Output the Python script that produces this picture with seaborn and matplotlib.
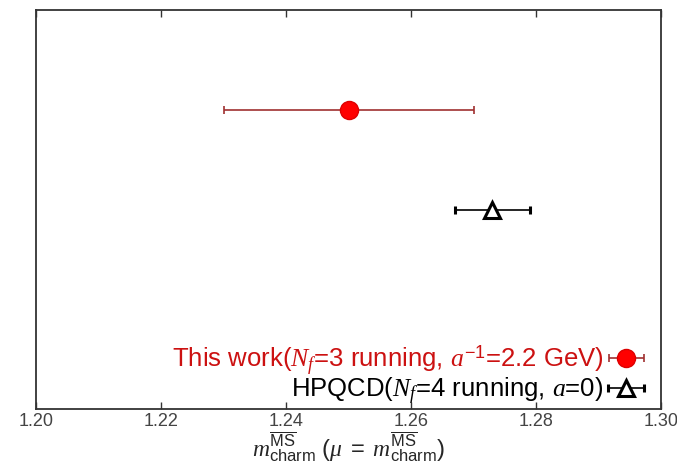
import matplotlib
matplotlib.use("Agg")
import matplotlib.pyplot as plt
from matplotlib.legend_handler import HandlerErrorbar
from matplotlib.container import ErrorbarContainer
import seaborn as sns
import numpy as np

# Data
labels = [r"This work($N_f$=3 running, $a^{-1}$=2.2 GeV)",
          r"HPQCD($N_f$=4 running, $a$=0)"]
values = [1.250, 1.273]
errors = [0.020, 0.006]
ypos = [3, 2]
text_colors = ["#cc1111", "#000000"]
xticks = [1.20, 1.22, 1.24, 1.26, 1.28, 1.30]

sns.set_theme(style="ticks")
plt.rcParams['font.family'] = ['Liberation Sans', 'DejaVu Sans']
plt.rcParams['mathtext.fontset'] = 'custom'
plt.rcParams['mathtext.rm'] = 'Liberation Sans'
plt.rcParams['mathtext.it'] = 'Liberation Serif:italic'
plt.rcParams['mathtext.bf'] = 'Liberation Sans:bold'

fig = plt.figure(figsize=(6.77, 4.67), dpi=100)
ax = fig.add_axes([36/677, 1 - 409/467, 625/677, 399/467])

h1 = ax.errorbar(values[0], ypos[0], xerr=errors[0], fmt='o', color='#ff0000',
                 ecolor='#a03030', elinewidth=1.2, capsize=3, capthick=1.2,
                 markersize=13, markeredgecolor='#dd0000', label=labels[0])
h2 = ax.errorbar(values[1], ypos[1], xerr=errors[1], fmt='^', color='black',
                 ecolor='black', elinewidth=1.2, capsize=3, capthick=1.2,
                 markersize=11, markerfacecolor='white', markeredgewidth=2.2,
                 label=labels[1])

ax.set_xlim(1.20, 1.30)
ax.set_ylim(0, 4)
ax.set_xticks(xticks)
ax.set_xticklabels([f"{t:.2f}" for t in xticks])
ax.set_yticks([])
ax.tick_params(axis='x', direction='in', top=True, bottom=True, length=5,
               width=1, labelsize=13, colors='#333333', labelcolor='#444444', pad=3)
for s in ax.spines.values():
    s.set_linewidth(1.3)
    s.set_color('#333333')

ax.set_xlabel(r"$m_{\mathrm{charm}}^{\overline{\mathrm{MS}}}\ (\mu\ =\ m_{\mathrm{charm}}^{\overline{\mathrm{MS}}})$",
              fontsize=17, labelpad=-1)

leg = ax.legend(handles=[h1, h2], loc='lower right', markerfirst=False,
                frameon=False, fontsize=18.5, handlelength=1.4, handletextpad=0.2,
                labelspacing=-0.05, borderaxespad=0.0,
                bbox_to_anchor=(0.99, -0.02),
                handler_map={ErrorbarContainer: HandlerErrorbar(xerr_size=0.7)})
for t, c in zip(leg.get_texts(), text_colors):
    t.set_color(c)

fig.savefig("out.png", dpi=100)
